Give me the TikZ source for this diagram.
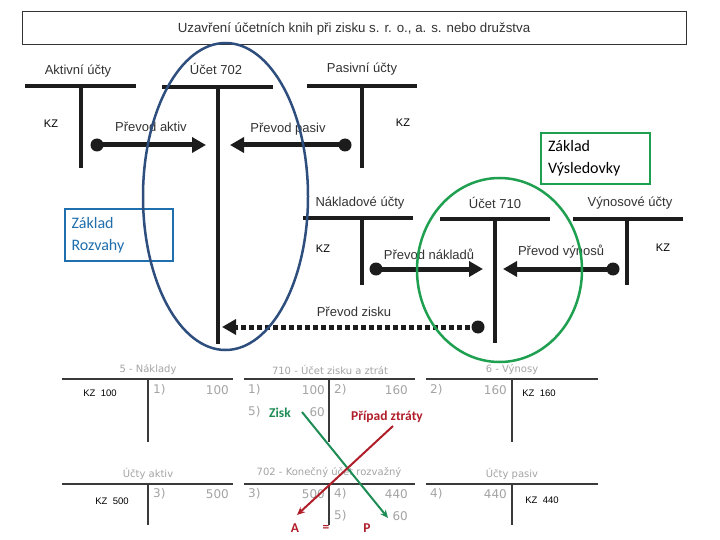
\documentclass[tikz,border=0pt]{standalone}
\usepackage{fontspec}
\setmainfont{Liberation Sans}
\newfontfamily\calib{Carlito}
\newfontfamily\verd{DejaVu Sans}
\usetikzlibrary{arrows.meta,shapes.geometric}
\definecolor{lbl}{HTML}{333333}
\definecolor{barc}{HTML}{1C1C1C}
\definecolor{ellblue}{HTML}{2E4E7E}
\definecolor{boxblue}{HTML}{1F6EAD}
\definecolor{grn}{HTML}{1FA050}
\definecolor{gtxt}{HTML}{A4A4A4}
\definecolor{gline}{HTML}{3A3A3A}
\definecolor{ziskc}{HTML}{1E8C55}
\definecolor{ztrc}{HTML}{B01E2A}
\newcommand\TAcct[7]{%
  \coordinate (#1-l) at (#2,#4);
  \coordinate (#1-r) at (#3,#4);
  \coordinate (#1-t) at (#5,#4);
  \coordinate (#1-b) at (#5,#6);
  \draw[#7] (#1-l) -- (#1-r);
  \draw[#7] (#1-t) -- (#1-b);}
\begin{document}
\begin{tikzpicture}[x=1pt,y=-1pt,
  lbl/.style={text=lbl, font=\fontsize{13}{14}\selectfont, inner sep=0pt},
  kz/.style={text=black, font=\fontsize{11}{12}\selectfont, inner sep=0pt},
  kzs/.style={text=black, font=\fontsize{9.5}{10}\selectfont, inner sep=0pt},
  tbar/.style={draw=barc, line width=4pt},
  tbar2/.style={draw=gline, line width=1.3pt},
  dotnode/.style={circle, fill=barc, minimum size=13pt, inner sep=0pt},
  bigarrow/.style={draw=barc, line width=5pt, -{Triangle[length=14pt,width=15pt]}},
  dotarrow/.style={draw=barc, line width=5pt, dash pattern=on 5pt off 3pt, -{Triangle[length=14pt,width=15pt]}},
  ghead/.style={text=gtxt, font=\verd\fontsize{10}{11}\selectfont, inner sep=0pt},
  gnum/.style={text=gtxt, font=\verd\fontsize{12}{13}\selectfont, inner sep=0pt},
  cbox/.style={line width=2.5pt, inner sep=0pt, font=\calib\fontsize{16}{22}\selectfont, align=left},
  cb/.style={font=\calib\bfseries\fontsize{13.5}{14}\selectfont, inner sep=0pt}]
\useasboundingbox (0,0) rectangle (720,540);
\fill[white] (0,0) rectangle (720,540);
% title
\node[draw=lbl, line width=1pt, minimum width=664pt, minimum height=33pt, inner sep=0pt,
  text=lbl, font=\fontsize{13.3}{14}\selectfont] (title) at (354,28.5)
  {Uzavření účetních knih při zisku s. r. o., a. s. nebo družstva};
% top T accounts
\node[lbl] (akt) at (78,71) {Aktivní účty};
\node[lbl] (u702) at (216,69) {Účet 702};
\node[lbl] (pas) at (362,69) {Pasivní účty};
\TAcct{A}{25}{136}{86}{81}{168}{tbar}
\TAcct{B}{162}{273}{87}{218}{344}{tbar}
\TAcct{C}{307}{417}{86}{362}{168}{tbar}
\node[kz] (kz1) at (51,124) {KZ};
\node[kz] (kz2) at (403,123) {KZ};
\node[lbl] (pa) at (151,127) {Převod aktiv};
\node[lbl] (pp) at (288,129) {Převod pasiv};
\node[dotnode] (dA) at (97,145) {};
\coordinate (tA) at (206,145);
\draw[bigarrow] (dA.center) -- (tA);
\node[dotnode] (dP) at (345,145) {};
\coordinate (tP) at (230,145);
\draw[bigarrow] (dP.center) -- (tP);
% second row
\node[lbl] (nak) at (360,203) {Nákladové účty};
\node[lbl] (u710) at (495,203) {Účet 710};
\node[lbl] (vyn) at (630,203) {Výnosové účty};
\TAcct{D}{303}{413}{218}{362}{285}{tbar}
\TAcct{E}{440}{550}{219}{495}{343}{tbar}
\TAcct{F}{573}{683}{219}{627}{285}{tbar}
\node[kz] (kz3) at (323,249) {KZ};
\node[kz] (kz4) at (663,248) {KZ};
\node[lbl] (pn) at (429,254) {Převod nákladů};
\node[lbl] (pv) at (561,252) {Převod výnosů};
\node[lbl] (pz) at (354,312) {Převod zisku};
\node[dotnode] (dN) at (376,269) {};
\coordinate (tN) at (483,269);
\draw[bigarrow] (dN.center) -- (tN);
\node[dotnode] (dV) at (613,269) {};
\coordinate (tV) at (503,269);
\draw[bigarrow] (dV.center) -- (tV);
\node[dotnode] (dZ) at (478,327) {};
\coordinate (tZ) at (222,327);
\draw[dotarrow] (dZ.center) -- (tZ);
% boxes
\node[cbox, draw=grn, text=black, minimum width=109pt, minimum height=51pt, text width=95pt] (bv) at (595.5,158.5) {Základ\\Výsledovky};
\node[cbox, draw=boxblue, text=boxblue, minimum width=108pt, minimum height=52pt, text width=95pt] (br) at (119,235) {Základ\\Rozvahy};
% ellipses
\draw[ellblue, line width=2.5pt] (225.5,196.5) ellipse [x radius=82.5pt, y radius=153.5pt];
\draw[grn, line width=2.5pt] (499.5,270) ellipse [x radius=82.5pt, y radius=92pt];
% bottom T accounts
\node[ghead] (h1) at (148,370) {5 - Náklady};
\node[ghead] (h2) at (330,370) {710 - Účet zisku a ztrát};
\node[ghead] (h3) at (512,370) {6 - Výnosy};
\node[ghead] (h4) at (148,474) {Účty aktiv};
\node[ghead] (h5) at (329,473) {702 - Konečný účet rozvažný};
\node[ghead] (h6) at (512,474) {Účty pasiv};
\TAcct{G}{62}{233}{379}{148}{442}{tbar2}
\TAcct{H}{244}{415}{379}{329}{442}{tbar2}
\TAcct{I}{426}{598}{379}{512}{442}{tbar2}
\TAcct{J}{62}{233}{484}{148}{525}{tbar2}
\TAcct{K}{244}{415}{484}{329}{525}{tbar2}
\TAcct{L}{426}{598}{484}{512}{525}{tbar2}
% numbers
\node[gnum, anchor=west] (g1a) at (153,390) {1)};
\node[gnum, anchor=east] (g1b) at (229,390) {100};
\node[gnum, anchor=west] (h1a) at (248,390) {1)};
\node[gnum, anchor=east] (h1b) at (325,390) {100};
\node[gnum, anchor=west] (h2a) at (334,390) {2)};
\node[gnum, anchor=east] (h2b) at (408,390) {160};
\node[gnum, anchor=west] (h5a) at (248,412) {5)};
\node[gnum, anchor=east] (h5b) at (325,412) {60};
\node[gnum, anchor=west] (i2a) at (430,390) {2)};
\node[gnum, anchor=east] (i2b) at (507,390) {160};
\node[gnum, anchor=west] (j3a) at (153,494) {3)};
\node[gnum, anchor=east] (j3b) at (229,494) {500};
\node[gnum, anchor=west] (k3a) at (248,494) {3)};
\node[gnum, anchor=east] (k3b) at (325,494) {500};
\node[gnum, anchor=west] (k4a) at (334,494) {4)};
\node[gnum, anchor=east] (k4b) at (408,494) {440};
\node[gnum, anchor=west] (k5a) at (334,516) {5)};
\node[gnum, anchor=east] (k5b) at (408,516) {60};
\node[gnum, anchor=west] (l4a) at (430,494) {4)};
\node[gnum, anchor=east] (l4b) at (507,494) {440};
\node[kzs] (kz5) at (100,393) {KZ\ \ 100};
\node[kzs] (kz6) at (539,393) {KZ\ \ 160};
\node[kzs] (kz7) at (112,501) {KZ\ \ 500};
\node[kzs] (kz8) at (542,500) {KZ\ \ 440};
% zisk / ztrata
\node[cb, text=ziskc] (zisk) at (280,413) {Zisk};
\node[cb, text=ztrc] (ztr) at (387,417) {Případ ztráty};
\node[cb, text=ztrc] (nA) at (295,528) {A};
\node[cb, text=ztrc] (nEq) at (326,528) {=};
\node[cb, text=ztrc] (nP) at (367,528) {P};
\coordinate (zs) at (302,412);
\coordinate (ze) at (388,518);
\coordinate (rs) at (393,426);
\coordinate (re) at (297,515);
\draw[ziskc, line width=2pt, -{Stealth[length=8pt,width=7pt]}] (zs) -- (ze);
\draw[ztrc, line width=2pt, -{Stealth[length=8pt,width=7pt]}] (rs) -- (re);
\end{tikzpicture}
\end{document}
